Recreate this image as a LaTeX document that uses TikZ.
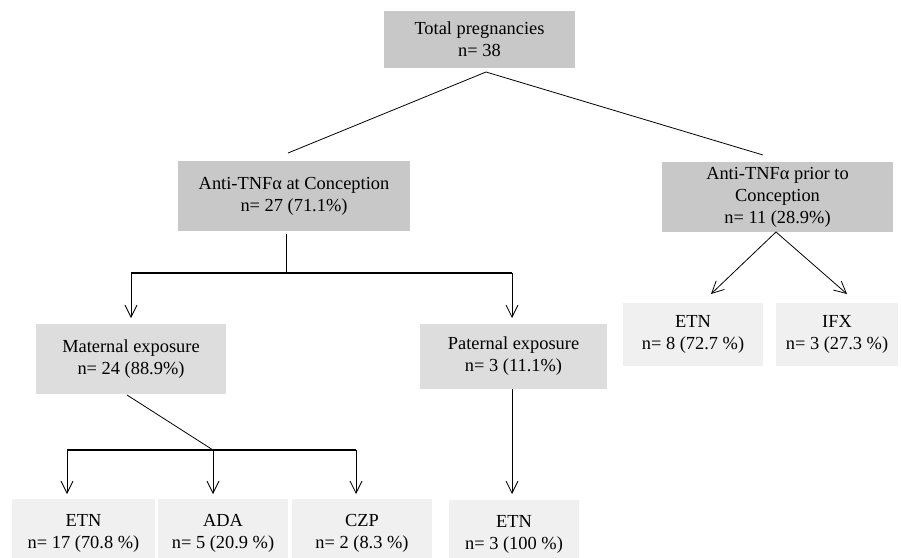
\documentclass[tikz,border=0pt]{standalone}
\usepackage{fontspec}
\setmainfont{Liberation Serif}
\usepackage{tikz}
\usetikzlibrary{arrows.meta}
\definecolor{boxdark}{RGB}{200,200,200}
\definecolor{boxmid}{RGB}{221,221,222}
\definecolor{boxlight}{RGB}{240,240,241}
\tikzset{bx/.style={rectangle,inner sep=0pt,align=center,font=\fontsize{18.4}{22}\selectfont},
  dk/.style={bx,fill=boxdark},
  md/.style={bx,fill=boxmid},
  lt/.style={bx,fill=boxlight},
  bar/.style={line width=2pt},
  ln/.style={line width=0.8pt}}

\begin{document}
\begin{tikzpicture}[x=1pt,y=-1pt,>={Straight Barb[length=12pt,width=12pt]}]
        \clip (0,0) rectangle (901,557);
        \fill[white] (0,0) rectangle (901,557);
		\node[dk,minimum width=191pt,minimum height=57pt] (total) at (479.5,39.5) {Total pregnancies\\n= 38};
        \node[dk,minimum width=232pt,minimum height=70pt] (atconc) at (294,196) {Anti-TNFα at Conception\\n= 27 (71.1\%)};
        \node[dk,minimum width=231pt,minimum height=70pt] (prior) at (777.5,197) {Anti-TNFα prior to\\Conception\\n= 11 (28.9\%)};
        \node[md,minimum width=190pt,minimum height=70pt] (mat) at (131,359) {Maternal exposure\\n= 24 (88.9\%)};
        \node[md,minimum width=187pt,minimum height=65pt] (pat) at (513.5,356.5) {Paternal exposure\\n= 3 (11.1\%)};
        \node[lt,minimum width=143pt,minimum height=68pt] (metn) at (83.5,533) {ETN\\n= 17 (70.8 \%)};
        \node[lt,minimum width=130pt,minimum height=68pt] (mada) at (223,533) {ADA\\n= 5 (20.9 \%)};
        \node[lt,minimum width=140pt,minimum height=68pt] (mczp) at (362,533) {CZP\\n= 2 (8.3 \%)};
        \node[lt,minimum width=130pt,minimum height=68pt] (petn) at (514,534) {ETN\\n= 3 (100 \%)};
        \node[lt,minimum width=140pt,minimum height=63pt] (retn) at (693,334.5) {ETN\\n= 8 (72.7 \%)};
        \node[lt,minimum width=122pt,minimum height=63pt] (rifx) at (837,334.5) {IFX\\n= 3 (27.3 \%)};

        % top split
        \coordinate (t0) at (486,72);
        \coordinate (t1) at (288,153);
        \coordinate (t2) at (763,155);
        \draw[ln] (t1) -- (t0) -- (t2);

        % at conception -> maternal / paternal
        \coordinate (a0) at (286,234);
        \coordinate (a1) at (286,273);
        \coordinate (al) at (131,273);
        \coordinate (ar) at (512,273);
        \coordinate (alt) at (131,318);
        \coordinate (art) at (512,318);
        \draw[ln] (a0) -- (a1);
        \draw[bar] (al) -- (ar);
        \draw[ln,->] (al) -- (alt);
        \draw[ln,->] (ar) -- (art);

        % maternal -> drugs
        \coordinate (m0) at (127,395);
        \coordinate (m1) at (213,450);
        \coordinate (ml) at (67,450);
        \coordinate (mr) at (356,450);
        \draw[ln] (m0) -- (m1);
        \draw[bar] (ml) -- (mr);
        \foreach \x in {67,213,356}
          \draw[ln,->] (\x,450) -- (\x,494);

        % paternal
        \coordinate (p1) at (512,494);
        \draw[ln,->] (512,389) -- (p1);

        % prior
        \coordinate (r0) at (776,232);
        \coordinate (r1) at (711,294);
        \coordinate (r2) at (847,294);
        \draw[ln,->] (r0) -- (r1);
        \draw[ln,->] (r0) -- (r2);
    \end{tikzpicture}
\end{document}
